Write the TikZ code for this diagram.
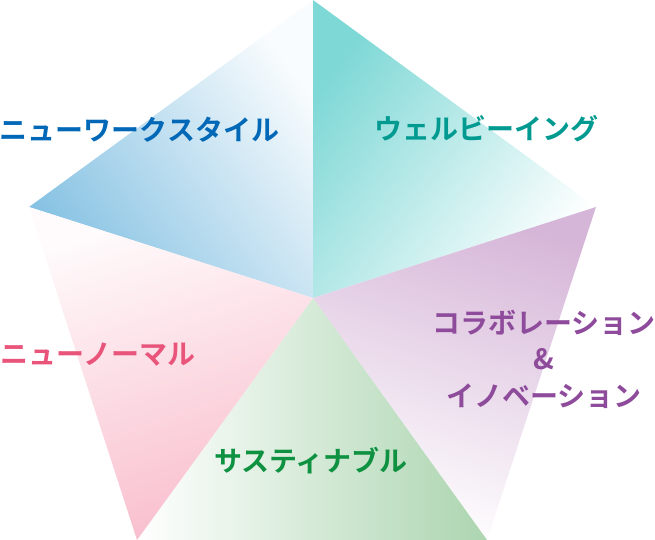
\documentclass[tikz,border=0pt]{standalone}
\usepackage{fontspec}
\newfontfamily\jp{Noto Sans CJK JP}[BoldFont={Noto Sans CJK JP Bold}]
\definecolor{cblue}{HTML}{86C2E3}
\definecolor{cteal}{HTML}{7ED8D6}
\definecolor{cpurple}{HTML}{D6B6D8}
\definecolor{cgreen}{HTML}{ACD5B0}
\definecolor{cpink}{HTML}{F9BDCC}
\definecolor{tblue}{HTML}{0068B6}
\definecolor{tteal}{HTML}{009A91}
\definecolor{tpurple}{HTML}{8E4B9B}
\definecolor{tpink}{HTML}{E9557A}
\definecolor{tgreen}{HTML}{0E9140}
\begin{document}
\begin{tikzpicture}[x=1pt,y=-1pt,
  lbl/.style={inner sep=0pt,font=\jp\bfseries\fontsize{28}{36.5}\selectfont,align=center}]
\useasboundingbox (0,0) rectangle (655,540);
\coordinate (T) at (313,0);
\coordinate (R) at (596,207);
\coordinate (BR) at (487,540);
\coordinate (BL) at (137,540);
\coordinate (L) at (29,207);
\coordinate (C) at (313,298);
% segments
\shade[left color=cblue,right color=cblue!5,shading angle=126] (L) -- (T) -- (C) -- cycle;
\shade[left color=cteal,right color=white,shading angle=54] (T) -- (R) -- (C) -- cycle;
\shade[left color=cpurple,right color=white,shading angle=-18] (R) -- (BR) -- (C) -- cycle;
\shade[left color=white,right color=cgreen,shading angle=90] (C) -- (BR) -- (BL) -- cycle;
\shade[left color=white!60!cpink!15,right color=cpink,shading angle=18] (L) -- (C) -- (BL) -- cycle;
% labels
\node[lbl,text=tblue] (nws) at (139.5,130) {ニューワークスタイル};
\node[lbl,text=tteal] (wb) at (486,129) {ウェルビーイング};
\node[lbl,text=tpurple] (ci) at (544,359) {コラボレーション\\\&\\イノベーション};
\node[lbl,text=tpink] (nn) at (98,355) {ニューノーマル};
\node[lbl,text=tgreen] (sus) at (311,461) {サスティナブル};
\end{tikzpicture}
\end{document}
